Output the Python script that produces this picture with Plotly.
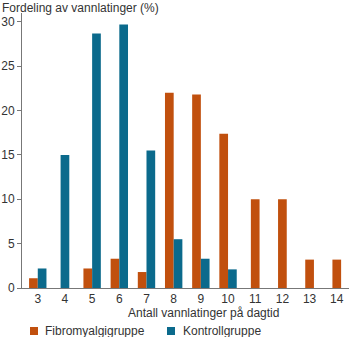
import plotly.graph_objects as go

categories = [3, 4, 5, 6, 7, 8, 9, 10, 11, 12, 13, 14]
fibro = [1.1, 0, 2.2, 3.3, 1.8, 22.0, 21.8, 17.4, 10.0, 10.0, 3.2, 3.2]
kontroll = [2.2, 15.0, 28.7, 29.7, 15.5, 5.5, 3.3, 2.1, 0, 0, 0, 0]
series_names = ["Fibromyalgigruppe", "Kontrollgruppe"]
colors = ["#c1500e", "#0b6a8c"]
y_ticks = [0, 5, 10, 15, 20, 25, 30]

W = 0.32
# bars: if both present, side by side; otherwise a single bar centred on the tick
off_f, off_k = [], []
for f, k in zip(fibro, kontroll):
    both = f > 0 and k > 0
    off_f.append(-W if both else -W / 2)
    off_k.append(0 if both else -W / 2)

font = dict(family="Liberation Sans, Arial, sans-serif", size=12, color="#333333")

fig = go.Figure()
fig.add_trace(go.Bar(x=categories, y=fibro, width=W, offset=off_f,
                     marker=dict(color=colors[0], line=dict(width=0)),
                     name=series_names[0], showlegend=False))
fig.add_trace(go.Bar(x=categories, y=kontroll, width=W, offset=off_k,
                     marker=dict(color=colors[1], line=dict(width=0)),
                     name=series_names[1], showlegend=False))

# plot area in pixels: x 22..349, y 13..288
PL, PW, PB, PH = 22, 327, 288, 275
def px(x):
    return (x - PL) / PW
def py(y):
    return (PB - y) / PH

shapes = []
annotations = [
    dict(text="Fordeling av vannlatinger (%)", xref="paper", yref="paper",
         x=px(0), y=1.0, xanchor="left", yanchor="bottom", yshift=-4, showarrow=False, font=font),
    dict(text="Antall vannlatinger på dagtid", xref="paper", yref="paper",
         x=px(203), y=0, xanchor="center", yanchor="top", yshift=-16, showarrow=False, font=font),
]
legend_pos = [(30, 43), (167, 181)]
for (sx, tx), nm, c in zip(legend_pos, series_names, colors):
    shapes.append(dict(type="rect", xref="paper", yref="paper",
                       x0=px(sx), x1=px(sx + 8), y0=py(335), y1=py(327),
                       fillcolor=c, line=dict(width=0)))
    annotations.append(dict(text=nm, xref="paper", yref="paper", x=px(tx), y=py(331),
                            xanchor="left", yanchor="middle", showarrow=False, font=font))

fig.update_layout(
    width=350, height=337,
    margin=dict(l=22, r=1, t=13, b=49),
    paper_bgcolor="white", plot_bgcolor="white",
    barmode="overlay",
    font=font,
    showlegend=False,
    xaxis=dict(range=[2.42, 14.45], tickvals=categories, ticktext=[str(c) for c in categories],
               showgrid=False, zeroline=False, showline=True, linecolor="#777777", linewidth=1,
               ticks="", tickfont=font, fixedrange=True),
    yaxis=dict(range=[0, 31], tickvals=y_ticks, showgrid=False, zeroline=False,
               showline=True, linecolor="#777777", linewidth=1,
               ticks="outside", ticklen=4, tickcolor="#777777", tickfont=font, fixedrange=True),
    shapes=shapes,
    annotations=annotations,
)

fig.write_html("out.html")
